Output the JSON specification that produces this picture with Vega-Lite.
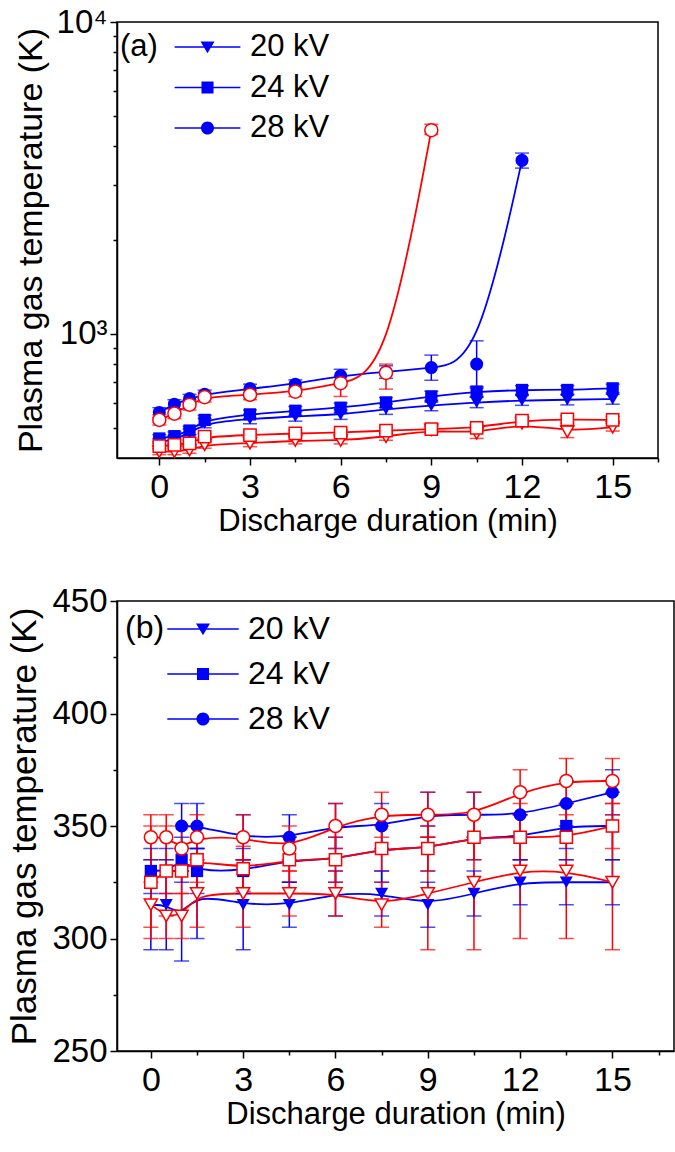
{
"$schema":"https://vega.github.io/schema/vega-lite/v6.json",
"padding":{"left":6,"top":5,"right":3,"bottom":3},
"spacing":47,
"resolve":{"scale":{"shape":"independent"},"legend":{"shape":"independent"}},
"config":{
 "font":"Liberation Sans",
 "view":{"stroke":"black","strokeWidth":1.5},
 "axis":{"domainColor":"black","domainWidth":1.5,"tickColor":"black","tickWidth":1.5,"labelColor":"black","titleColor":"black","labelFont":"Liberation Sans","titleFont":"Liberation Sans","titleFontWeight":"normal","grid":false},
 "title":{"font":"Liberation Sans","fontWeight":"normal","color":"black"}
},
"datasets":{
"a":[
{"t":0,"kv":"28 kV","s":"blue","T":560,"lo":540,"hi":580},{"t":0.5,"kv":"28 kV","s":"blue","T":595,"lo":575,"hi":615},{"t":1,"kv":"28 kV","s":"blue","T":620,"lo":600,"hi":640},{"t":1.5,"kv":"28 kV","s":"blue","T":640,"lo":620,"hi":660},{"t":3,"kv":"28 kV","s":"blue","T":668,"lo":645,"hi":690},{"t":4.5,"kv":"28 kV","s":"blue","T":690,"lo":668,"hi":712},{"t":6,"kv":"28 kV","s":"blue","T":735,"lo":705,"hi":770},{"t":7.5,"kv":"28 kV","s":"blue","T":755,"lo":720,"hi":790},{"t":9,"kv":"28 kV","s":"blue","T":780,"lo":710,"hi":855},{"t":10.5,"kv":"28 kV","s":"blue","T":800,"lo":670,"hi":950},{"t":12,"kv":"28 kV","s":"blue","T":3600,"lo":3400,"hi":3800},
{"t":0,"kv":"28 kV","s":"red","T":530,"lo":510,"hi":550},{"t":0.5,"kv":"28 kV","s":"red","T":555,"lo":535,"hi":575},{"t":1,"kv":"28 kV","s":"red","T":593,"lo":570,"hi":615},{"t":1.5,"kv":"28 kV","s":"red","T":627,"lo":605,"hi":650},{"t":3,"kv":"28 kV","s":"red","T":638,"lo":615,"hi":660},{"t":4.5,"kv":"28 kV","s":"red","T":653,"lo":630,"hi":675},{"t":6,"kv":"28 kV","s":"red","T":695,"lo":630,"hi":730},{"t":7.5,"kv":"28 kV","s":"red","T":750,"lo":665,"hi":800},{"t":9,"kv":"28 kV","s":"red","T":4500,"lo":4360,"hi":4700},
{"t":0,"kv":"24 kV","s":"blue","T":462,"lo":450,"hi":475},{"t":0.5,"kv":"24 kV","s":"blue","T":470,"lo":458,"hi":485},{"t":1,"kv":"24 kV","s":"blue","T":490,"lo":475,"hi":505},{"t":1.5,"kv":"24 kV","s":"blue","T":530,"lo":512,"hi":548},{"t":3,"kv":"24 kV","s":"blue","T":552,"lo":535,"hi":570},{"t":4.5,"kv":"24 kV","s":"blue","T":567,"lo":548,"hi":585},{"t":6,"kv":"24 kV","s":"blue","T":580,"lo":560,"hi":600},{"t":7.5,"kv":"24 kV","s":"blue","T":603,"lo":580,"hi":625},{"t":9,"kv":"24 kV","s":"blue","T":630,"lo":605,"hi":655},{"t":10.5,"kv":"24 kV","s":"blue","T":653,"lo":630,"hi":678},{"t":12,"kv":"24 kV","s":"blue","T":661,"lo":640,"hi":682},{"t":13.5,"kv":"24 kV","s":"blue","T":661,"lo":640,"hi":682},{"t":15,"kv":"24 kV","s":"blue","T":669,"lo":648,"hi":690},
{"t":0,"kv":"20 kV","s":"blue","T":450,"lo":438,"hi":462},{"t":0.5,"kv":"20 kV","s":"blue","T":458,"lo":445,"hi":472},{"t":1,"kv":"20 kV","s":"blue","T":480,"lo":465,"hi":495},{"t":1.5,"kv":"20 kV","s":"blue","T":518,"lo":500,"hi":535},{"t":3,"kv":"20 kV","s":"blue","T":534,"lo":515,"hi":552},{"t":4.5,"kv":"20 kV","s":"blue","T":544,"lo":525,"hi":563},{"t":6,"kv":"20 kV","s":"blue","T":551,"lo":532,"hi":570},{"t":7.5,"kv":"20 kV","s":"blue","T":574,"lo":552,"hi":596},{"t":9,"kv":"20 kV","s":"blue","T":589,"lo":567,"hi":612},{"t":10.5,"kv":"20 kV","s":"blue","T":603,"lo":580,"hi":626},{"t":12,"kv":"20 kV","s":"blue","T":612,"lo":590,"hi":635},{"t":13.5,"kv":"20 kV","s":"blue","T":615,"lo":592,"hi":638},{"t":15,"kv":"20 kV","s":"blue","T":618,"lo":595,"hi":640},
{"t":0,"kv":"24 kV","s":"red","T":437,"lo":428,"hi":446},{"t":0.5,"kv":"24 kV","s":"red","T":441,"lo":432,"hi":450},{"t":1,"kv":"24 kV","s":"red","T":446,"lo":436,"hi":456},{"t":1.5,"kv":"24 kV","s":"red","T":468,"lo":458,"hi":478},{"t":3,"kv":"24 kV","s":"red","T":474,"lo":463,"hi":485},{"t":4.5,"kv":"24 kV","s":"red","T":480,"lo":469,"hi":491},{"t":6,"kv":"24 kV","s":"red","T":482,"lo":471,"hi":493},{"t":7.5,"kv":"24 kV","s":"red","T":490,"lo":478,"hi":502},{"t":9,"kv":"24 kV","s":"red","T":495,"lo":483,"hi":507},{"t":10.5,"kv":"24 kV","s":"red","T":500,"lo":488,"hi":512},{"t":12,"kv":"24 kV","s":"red","T":527,"lo":515,"hi":539},{"t":13.5,"kv":"24 kV","s":"red","T":532,"lo":518,"hi":546},{"t":15,"kv":"24 kV","s":"red","T":530,"lo":517,"hi":543},
{"t":0,"kv":"20 kV","s":"red","T":419,"lo":410,"hi":428},{"t":0.5,"kv":"20 kV","s":"red","T":419,"lo":410,"hi":428},{"t":1,"kv":"20 kV","s":"red","T":424,"lo":414,"hi":434},{"t":1.5,"kv":"20 kV","s":"red","T":441,"lo":430,"hi":452},{"t":3,"kv":"20 kV","s":"red","T":446,"lo":435,"hi":457},{"t":4.5,"kv":"20 kV","s":"red","T":455,"lo":444,"hi":466},{"t":6,"kv":"20 kV","s":"red","T":455,"lo":444,"hi":466},{"t":7.5,"kv":"20 kV","s":"red","T":468,"lo":456,"hi":480},{"t":9,"kv":"20 kV","s":"red","T":492,"lo":480,"hi":504},{"t":10.5,"kv":"20 kV","s":"red","T":480,"lo":462,"hi":498},{"t":12,"kv":"20 kV","s":"red","T":517,"lo":505,"hi":529},{"t":13.5,"kv":"20 kV","s":"red","T":486,"lo":465,"hi":505},{"t":15,"kv":"20 kV","s":"red","T":502,"lo":488,"hi":516}
],
"b":[
{"t":0,"kv":"20 kV","s":"blue","T":315,"lo":295,"hi":335},{"t":0.5,"kv":"20 kV","s":"blue","T":315,"lo":295,"hi":335},{"t":1,"kv":"20 kV","s":"blue","T":310,"lo":290,"hi":330},{"t":1.5,"kv":"20 kV","s":"blue","T":320,"lo":300,"hi":340},{"t":3,"kv":"20 kV","s":"blue","T":315,"lo":295,"hi":335},{"t":4.5,"kv":"20 kV","s":"blue","T":315,"lo":305,"hi":325},{"t":6,"kv":"20 kV","s":"blue","T":320,"lo":310,"hi":330},{"t":7.5,"kv":"20 kV","s":"blue","T":320,"lo":310,"hi":330},{"t":9,"kv":"20 kV","s":"blue","T":315,"lo":305,"hi":325},{"t":10.5,"kv":"20 kV","s":"blue","T":320,"lo":310,"hi":330},{"t":12,"kv":"20 kV","s":"blue","T":325,"lo":315,"hi":335},{"t":13.5,"kv":"20 kV","s":"blue","T":325,"lo":315,"hi":335},{"t":15,"kv":"20 kV","s":"blue","T":325,"lo":315,"hi":335},
{"t":0,"kv":"24 kV","s":"blue","T":330,"lo":320,"hi":340},{"t":0.5,"kv":"24 kV","s":"blue","T":330,"lo":320,"hi":340},{"t":1,"kv":"24 kV","s":"blue","T":335,"lo":325,"hi":345},{"t":1.5,"kv":"24 kV","s":"blue","T":330,"lo":320,"hi":340},{"t":3,"kv":"24 kV","s":"blue","T":330,"lo":320,"hi":340},{"t":4.5,"kv":"24 kV","s":"blue","T":335,"lo":325,"hi":345},{"t":6,"kv":"24 kV","s":"blue","T":335,"lo":325,"hi":345},{"t":7.5,"kv":"24 kV","s":"blue","T":340,"lo":325,"hi":355},{"t":9,"kv":"24 kV","s":"blue","T":340,"lo":330,"hi":350},{"t":10.5,"kv":"24 kV","s":"blue","T":345,"lo":335,"hi":355},{"t":12,"kv":"24 kV","s":"blue","T":345,"lo":335,"hi":355},{"t":13.5,"kv":"24 kV","s":"blue","T":350,"lo":340,"hi":360},{"t":15,"kv":"24 kV","s":"blue","T":350,"lo":335,"hi":365},
{"t":1,"kv":"28 kV","s":"blue","T":350,"lo":340,"hi":360},{"t":1.5,"kv":"28 kV","s":"blue","T":350,"lo":340,"hi":360},{"t":3,"kv":"28 kV","s":"blue","T":345,"lo":335,"hi":355},{"t":4.5,"kv":"28 kV","s":"blue","T":345,"lo":335,"hi":355},{"t":6,"kv":"28 kV","s":"blue","T":350,"lo":340,"hi":360},{"t":7.5,"kv":"28 kV","s":"blue","T":350,"lo":340,"hi":360},{"t":9,"kv":"28 kV","s":"blue","T":355,"lo":345,"hi":365},{"t":10.5,"kv":"28 kV","s":"blue","T":355,"lo":345,"hi":365},{"t":12,"kv":"28 kV","s":"blue","T":355,"lo":345,"hi":365},{"t":13.5,"kv":"28 kV","s":"blue","T":360,"lo":350,"hi":370},{"t":15,"kv":"28 kV","s":"blue","T":365,"lo":355,"hi":375},
{"t":0,"kv":"28 kV","s":"red","T":345,"lo":335,"hi":355},{"t":0.5,"kv":"28 kV","s":"red","T":345,"lo":335,"hi":355},{"t":1,"kv":"28 kV","s":"red","T":340,"lo":330,"hi":350},{"t":1.5,"kv":"28 kV","s":"red","T":345,"lo":335,"hi":355},{"t":3,"kv":"28 kV","s":"red","T":345,"lo":335,"hi":355},{"t":4.5,"kv":"28 kV","s":"red","T":340,"lo":330,"hi":350},{"t":6,"kv":"28 kV","s":"red","T":350,"lo":340,"hi":360},{"t":7.5,"kv":"28 kV","s":"red","T":355,"lo":345,"hi":365},{"t":9,"kv":"28 kV","s":"red","T":355,"lo":345,"hi":365},{"t":10.5,"kv":"28 kV","s":"red","T":355,"lo":345,"hi":365},{"t":12,"kv":"28 kV","s":"red","T":365,"lo":355,"hi":375},{"t":13.5,"kv":"28 kV","s":"red","T":370,"lo":360,"hi":380},{"t":15,"kv":"28 kV","s":"red","T":370,"lo":360,"hi":380},
{"t":0,"kv":"24 kV","s":"red","T":325,"lo":300,"hi":350},{"t":0.5,"kv":"24 kV","s":"red","T":330,"lo":310,"hi":350},{"t":1,"kv":"24 kV","s":"red","T":330,"lo":320,"hi":340},{"t":1.5,"kv":"24 kV","s":"red","T":335,"lo":325,"hi":345},{"t":3,"kv":"24 kV","s":"red","T":331,"lo":321,"hi":341},{"t":4.5,"kv":"24 kV","s":"red","T":335,"lo":325,"hi":345},{"t":6,"kv":"24 kV","s":"red","T":335,"lo":325,"hi":345},{"t":7.5,"kv":"24 kV","s":"red","T":340,"lo":330,"hi":350},{"t":9,"kv":"24 kV","s":"red","T":340,"lo":330,"hi":350},{"t":10.5,"kv":"24 kV","s":"red","T":345,"lo":335,"hi":355},{"t":12,"kv":"24 kV","s":"red","T":345,"lo":335,"hi":355},{"t":13.5,"kv":"24 kV","s":"red","T":345,"lo":335,"hi":355},{"t":15,"kv":"24 kV","s":"red","T":350,"lo":340,"hi":360},
{"t":0,"kv":"20 kV","s":"red","T":315,"lo":305,"hi":325},{"t":0.5,"kv":"20 kV","s":"red","T":310,"lo":300,"hi":320},{"t":1,"kv":"20 kV","s":"red","T":310,"lo":300,"hi":320},{"t":1.5,"kv":"20 kV","s":"red","T":320,"lo":305,"hi":335},{"t":3,"kv":"20 kV","s":"red","T":320,"lo":305,"hi":335},{"t":4.5,"kv":"20 kV","s":"red","T":320,"lo":310,"hi":330},{"t":6,"kv":"20 kV","s":"red","T":320,"lo":310,"hi":330},{"t":7.5,"kv":"20 kV","s":"red","T":315,"lo":305,"hi":325},{"t":9,"kv":"20 kV","s":"red","T":320,"lo":295,"hi":345},{"t":10.5,"kv":"20 kV","s":"red","T":325,"lo":295,"hi":355},{"t":12,"kv":"20 kV","s":"red","T":330,"lo":300,"hi":360},{"t":13.5,"kv":"20 kV","s":"red","T":330,"lo":300,"hi":360},{"t":15,"kv":"20 kV","s":"red","T":325,"lo":295,"hi":355}
]
},
"vconcat":[
{
 "width":541,"height":436,
 "data":{"name":"a"},
 "title":{"text":"(a)","anchor":"start","frame":"group","orient":"top","offset":-57,"dx":3,"fontSize":31},
 "encoding":{
  "x":{"field":"t","type":"quantitative","title":"Discharge duration (min)","scale":{"domain":[-1.4,16.5],"nice":false,"zero":false}}
 },
 "layer":[
  {"layer":[
    {"mark":{"type":"line","interpolate":"basis","strokeWidth":1.8},
     "encoding":{
      "x":{"field":"t","type":"quantitative","title":"Discharge duration (min)","scale":{"domain":[-1.4,16.5],"nice":false,"zero":false},"axis":{"values":[0,3,6,9,12,15],"tickSize":7,"labelFontSize":34,"labelPadding":5,"titleFontSize":31,"titlePadding":2}},
      "y":{"field":"T","type":"quantitative","title":"Plasma gas temperature (K)","scale":{"type":"log","domain":[400,10000],"nice":false},"axis":{"values":[1000,10000],"labelExpr":"datum.value > 5000 ? '10⁴' : '10³'","tickSize":7,"labelFontSize":33,"labelPadding":3,"titleFontSize":34,"titleX":-69}},
      "color":{"field":"s","type":"nominal","scale":{"domain":["blue","red"],"range":["#0000ff","#ff0000"]},"legend":null},
      "detail":{"field":"kv"}}},
    {"mark":{"type":"rule","strokeWidth":1.5},
     "encoding":{
      "y":{"field":"lo","type":"quantitative","title":"Plasma gas temperature (K)","scale":{"type":"log","domain":[400,10000],"nice":false}},
      "y2":{"field":"hi"},
      "color":{"field":"s","type":"nominal","scale":{"domain":["blue","red"],"range":["#0000ff","#ff0000"]},"legend":null}}},
    {"mark":{"type":"tick","orient":"horizontal","size":14,"thickness":1.5},
     "encoding":{
      "y":{"field":"lo","type":"quantitative","title":"Plasma gas temperature (K)","scale":{"type":"log","domain":[400,10000],"nice":false}},
      "color":{"field":"s","type":"nominal","scale":{"domain":["blue","red"],"range":["#0000ff","#ff0000"]},"legend":null}}},
    {"mark":{"type":"tick","orient":"horizontal","size":14,"thickness":1.5},
     "encoding":{
      "y":{"field":"hi","type":"quantitative","title":"Plasma gas temperature (K)","scale":{"type":"log","domain":[400,10000],"nice":false}},
      "color":{"field":"s","type":"nominal","scale":{"domain":["blue","red"],"range":["#0000ff","#ff0000"]},"legend":null}}},
    {"transform":[{"filter":"datum.s == 'blue'"}],
     "mark":{"type":"point","filled":true,"size":196,"color":"#0000ff","opacity":0},
     "encoding":{
      "y":{"field":"T","type":"quantitative","title":"Plasma gas temperature (K)","scale":{"type":"log","domain":[400,10000],"nice":false}},
      "shape":{"field":"kv","type":"nominal","scale":{"domain":["20 kV","24 kV","28 kV"],"range":["M-4.7,-0.11H4.7V0.11H-4.7ZM-1,-0.8L1,-0.8L0,0.9Z","M-4.7,-0.11H4.7V0.11H-4.7ZM-0.86,-0.86H0.86V0.86H-0.86Z","M-4.7,-0.11H4.7V0.11H-4.7ZM0.93,0A0.93,0.93,0,1,1,-0.93,0A0.93,0.93,0,1,1,0.93,0Z"]},
       "legend":{"orient":"none","legendX":75,"legendY":9.5,"title":null,"padding":0,"labelFont":"Liberation Sans","labelFontSize":31,"labelColor":"black","labelOffset":27,"symbolSize":196,"rowPadding":8.5,"symbolFillColor":"#0000ff","symbolOpacity":1}}}},
    {"transform":[{"filter":"datum.s == 'blue' && datum.kv == '20 kV'"}],
     "mark":{"type":"point","shape":"triangle-down","filled":true,"size":170,"color":"#0000ff","opacity":1},
     "encoding":{"y":{"field":"T","type":"quantitative","title":"Plasma gas temperature (K)","scale":{"type":"log","domain":[400,10000],"nice":false}}}},
    {"transform":[{"filter":"datum.s == 'blue' && datum.kv == '24 kV'"}],
     "mark":{"type":"point","shape":"square","filled":true,"size":150,"color":"#0000ff","opacity":1},
     "encoding":{"y":{"field":"T","type":"quantitative","title":"Plasma gas temperature (K)","scale":{"type":"log","domain":[400,10000],"nice":false}}}},
    {"transform":[{"filter":"datum.s == 'blue' && datum.kv == '28 kV'"}],
     "mark":{"type":"point","shape":"circle","filled":true,"size":170,"color":"#0000ff","opacity":1},
     "encoding":{"y":{"field":"T","type":"quantitative","title":"Plasma gas temperature (K)","scale":{"type":"log","domain":[400,10000],"nice":false}}}},
    {"transform":[{"filter":"datum.s == 'red' && datum.kv == '20 kV'"}],
     "mark":{"type":"point","shape":"triangle-down","filled":true,"fill":"white","stroke":"#ff0000","strokeWidth":1.5,"size":170,"opacity":1},
     "encoding":{"y":{"field":"T","type":"quantitative","title":"Plasma gas temperature (K)","scale":{"type":"log","domain":[400,10000],"nice":false}}}},
    {"transform":[{"filter":"datum.s == 'red' && datum.kv == '24 kV'"}],
     "mark":{"type":"point","shape":"square","filled":true,"fill":"white","stroke":"#ff0000","strokeWidth":1.5,"size":150,"opacity":1},
     "encoding":{"y":{"field":"T","type":"quantitative","title":"Plasma gas temperature (K)","scale":{"type":"log","domain":[400,10000],"nice":false}}}},
    {"transform":[{"filter":"datum.s == 'red' && datum.kv == '28 kV'"}],
     "mark":{"type":"point","shape":"circle","filled":true,"fill":"white","stroke":"#ff0000","strokeWidth":1.5,"size":170,"opacity":1},
     "encoding":{"y":{"field":"T","type":"quantitative","title":"Plasma gas temperature (K)","scale":{"type":"log","domain":[400,10000],"nice":false}}}}
   ]
  },
  {"mark":{"type":"point","opacity":0},
   "encoding":{
    "x":{"field":"t","type":"quantitative","scale":{"domain":[-1.4,16.5],"nice":false,"zero":false},"axis":{"orient":"bottom","values":[1.5,4.5,7.5,10.5,13.5,16.5],"tickSize":4,"labels":false,"domain":false,"title":null}},
    "y":{"field":"T","type":"quantitative","scale":{"type":"log","domain":[400,10000],"nice":false},"axis":{"orient":"left","values":[500,600,700,800,900,2000,3000,4000,5000,6000,7000,8000,9000],"tickSize":4,"labels":false,"domain":false,"title":null}}}}
 ],
 "resolve":{"axis":{"x":"independent","y":"independent"}}
},
{
 "width":557,"height":450,
 "data":{"name":"b"},
 "title":{"text":"(b)","anchor":"start","frame":"group","orient":"top","offset":-60,"dx":8,"fontSize":32},
 "encoding":{
  "x":{"field":"t","type":"quantitative","title":"Discharge duration (min)","scale":{"domain":[-1.1,17],"nice":false,"zero":false}}
 },
 "layer":[
  {"layer":[
    {"mark":{"type":"line","interpolate":"basis","strokeWidth":1.8},
     "encoding":{
      "x":{"field":"t","type":"quantitative","title":"Discharge duration (min)","scale":{"domain":[-1.1,17],"nice":false,"zero":false},"axis":{"values":[0,3,6,9,12,15],"tickSize":7,"labelFontSize":34,"labelPadding":5,"titleFontSize":31,"titlePadding":2}},
      "y":{"field":"T","type":"quantitative","title":"Plasma gas temperature (K)","scale":{"domain":[250,450],"nice":false,"zero":false},"axis":{"values":[250,300,350,400,450],"tickSize":7,"labelFontSize":33,"labelPadding":3,"titleFontSize":35,"titleX":-75}},
      "color":{"field":"s","type":"nominal","scale":{"domain":["blue","red"],"range":["#0000ff","#ff0000"]},"legend":null},
      "detail":{"field":"kv"}}},
    {"mark":{"type":"rule","strokeWidth":1.5},
     "encoding":{
      "y":{"field":"lo","type":"quantitative","title":"Plasma gas temperature (K)","scale":{"domain":[250,450],"nice":false,"zero":false}},
      "y2":{"field":"hi"},
      "color":{"field":"s","type":"nominal","scale":{"domain":["blue","red"],"range":["#0000ff","#ff0000"]},"legend":null}}},
    {"mark":{"type":"tick","orient":"horizontal","size":15,"thickness":1.5},
     "encoding":{
      "y":{"field":"lo","type":"quantitative","title":"Plasma gas temperature (K)","scale":{"domain":[250,450],"nice":false,"zero":false}},
      "color":{"field":"s","type":"nominal","scale":{"domain":["blue","red"],"range":["#0000ff","#ff0000"]},"legend":null}}},
    {"mark":{"type":"tick","orient":"horizontal","size":15,"thickness":1.5},
     "encoding":{
      "y":{"field":"hi","type":"quantitative","title":"Plasma gas temperature (K)","scale":{"domain":[250,450],"nice":false,"zero":false}},
      "color":{"field":"s","type":"nominal","scale":{"domain":["blue","red"],"range":["#0000ff","#ff0000"]},"legend":null}}},
    {"transform":[{"filter":"datum.s == 'blue'"}],
     "mark":{"type":"point","filled":true,"size":196,"color":"#0000ff","opacity":0},
     "encoding":{
      "y":{"field":"T","type":"quantitative","title":"Plasma gas temperature (K)","scale":{"domain":[250,450],"nice":false,"zero":false}},
      "shape":{"field":"kv","type":"nominal","scale":{"domain":["20 kV","24 kV","28 kV"],"range":["M-5.1,-0.11H5.1V0.11H-5.1ZM-1,-0.8L1,-0.8L0,0.9Z","M-5.1,-0.11H5.1V0.11H-5.1ZM-0.86,-0.86H0.86V0.86H-0.86Z","M-5.1,-0.11H5.1V0.11H-5.1ZM0.93,0A0.93,0.93,0,1,1,-0.93,0A0.93,0.93,0,1,1,0.93,0Z"]},
       "legend":{"orient":"none","legendX":70,"legendY":12,"title":null,"padding":0,"labelFont":"Liberation Sans","labelFontSize":32,"labelColor":"black","labelOffset":29,"symbolSize":196,"rowPadding":13,"symbolFillColor":"#0000ff","symbolOpacity":1}}}},
    {"transform":[{"filter":"datum.s == 'blue' && datum.kv == '20 kV'"}],
     "mark":{"type":"point","shape":"triangle-down","filled":true,"size":170,"color":"#0000ff","opacity":1},
     "encoding":{"y":{"field":"T","type":"quantitative","title":"Plasma gas temperature (K)","scale":{"domain":[250,450],"nice":false,"zero":false}}}},
    {"transform":[{"filter":"datum.s == 'blue' && datum.kv == '24 kV'"}],
     "mark":{"type":"point","shape":"square","filled":true,"size":150,"color":"#0000ff","opacity":1},
     "encoding":{"y":{"field":"T","type":"quantitative","title":"Plasma gas temperature (K)","scale":{"domain":[250,450],"nice":false,"zero":false}}}},
    {"transform":[{"filter":"datum.s == 'blue' && datum.kv == '28 kV'"}],
     "mark":{"type":"point","shape":"circle","filled":true,"size":170,"color":"#0000ff","opacity":1},
     "encoding":{"y":{"field":"T","type":"quantitative","title":"Plasma gas temperature (K)","scale":{"domain":[250,450],"nice":false,"zero":false}}}},
    {"transform":[{"filter":"datum.s == 'red' && datum.kv == '20 kV'"}],
     "mark":{"type":"point","shape":"triangle-down","filled":true,"fill":"white","stroke":"#ff0000","strokeWidth":1.5,"size":170,"opacity":1},
     "encoding":{"y":{"field":"T","type":"quantitative","title":"Plasma gas temperature (K)","scale":{"domain":[250,450],"nice":false,"zero":false}}}},
    {"transform":[{"filter":"datum.s == 'red' && datum.kv == '24 kV'"}],
     "mark":{"type":"point","shape":"square","filled":true,"fill":"white","stroke":"#ff0000","strokeWidth":1.5,"size":150,"opacity":1},
     "encoding":{"y":{"field":"T","type":"quantitative","title":"Plasma gas temperature (K)","scale":{"domain":[250,450],"nice":false,"zero":false}}}},
    {"transform":[{"filter":"datum.s == 'red' && datum.kv == '28 kV'"}],
     "mark":{"type":"point","shape":"circle","filled":true,"fill":"white","stroke":"#ff0000","strokeWidth":1.5,"size":170,"opacity":1},
     "encoding":{"y":{"field":"T","type":"quantitative","title":"Plasma gas temperature (K)","scale":{"domain":[250,450],"nice":false,"zero":false}}}}
   ]
  },
  {"mark":{"type":"point","opacity":0},
   "encoding":{
    "x":{"field":"t","type":"quantitative","scale":{"domain":[-1.1,17],"nice":false,"zero":false},"axis":{"orient":"bottom","values":[1.5,4.5,7.5,10.5,13.5,16.5],"tickSize":4,"labels":false,"domain":false,"title":null}},
    "y":{"field":"T","type":"quantitative","scale":{"domain":[250,450],"nice":false,"zero":false},"axis":{"orient":"left","values":[275,325,375,425],"tickSize":4,"labels":false,"domain":false,"title":null}}}}
 ],
 "resolve":{"axis":{"x":"independent","y":"independent"}}
}
]
}
